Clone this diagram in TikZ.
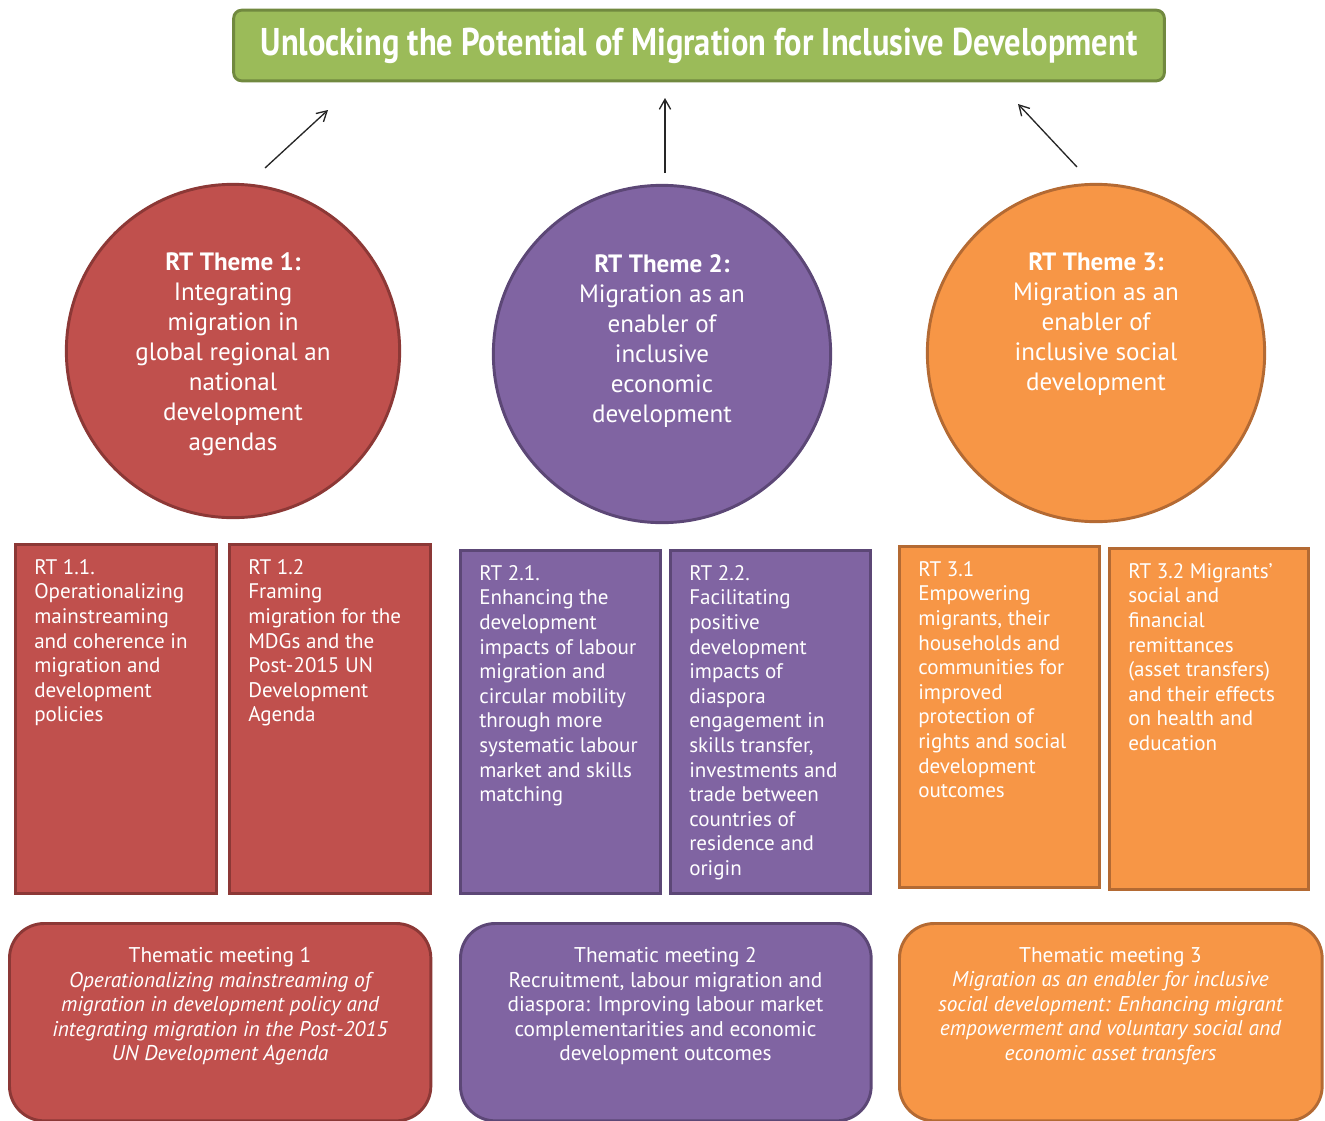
\documentclass[tikz,border=0pt]{standalone}
\usepackage{fontspec}
\setmainfont{PT Sans}
\newfontfamily\titlefont[FakeStretch=0.84]{PT Sans}
\usetikzlibrary{arrows.meta}

\definecolor{redfill}{HTML}{C0504D}
\definecolor{redline}{HTML}{8C3836}
\definecolor{purplefill}{HTML}{8064A2}
\definecolor{purpleline}{HTML}{5C4776}
\definecolor{orangefill}{HTML}{F79646}
\definecolor{orangeline}{HTML}{B46A33}
\definecolor{greenfill}{HTML}{9BBB59}
\definecolor{greenline}{HTML}{71893F}

\tikzstyle{every node}=[text=white,inner sep=0pt]
\tikzstyle{theme}=[draw,circle,line width=2.2pt]
\tikzstyle{themetext}=[anchor=north,align=center,font=\fontsize{18.8}{22.5}\selectfont]
\tikzstyle{rtbox}=[draw,rectangle,line width=2.2pt,outer sep=0pt,anchor=north west]
\tikzstyle{rttext}=[anchor=north west,align=left,font=\fontsize{15.8}{18.45}\selectfont]
\tikzstyle{meeting}=[draw,rectangle,rounded corners=26pt,line width=2.2pt,outer sep=0pt,anchor=north west]
\tikzstyle{meettext}=[anchor=north,align=center,font=\fontsize{16}{18.4}\selectfont]

\begin{document}
\begin{tikzpicture}[x=0.75pt,y=-0.75pt,>={Straight Barb[length=7.5pt,width=8.5pt]}]
	\useasboundingbox (0,0) rectangle (1325,1121);

	% goal
	\node(goal)[draw=greenline,fill=greenfill,line width=2.2pt,rounded corners=6pt,
		minimum width=698pt,minimum height=53pt]
		at (699,45.5) {\titlefont\fontsize{29}{32}\selectfont\bfseries Unlocking the Potential of Migration for Inclusive Development};

	% themes
	\node(t1)[theme,draw=redline,fill=redfill,minimum size=250pt] at (233,351) {};
	\node(t2)[theme,draw=purpleline,fill=purplefill,minimum size=253pt] at (662,354) {};
	\node(t3)[theme,draw=orangeline,fill=orangefill,minimum size=253pt] at (1096,353) {};

	\node(t1text)[themetext] at (233,252) {\textbf{RT Theme 1:}\\Integrating\\migration in\\global regional an\\national\\development\\agendas};
	\node(t2text)[themetext] at (662,254) {\textbf{RT Theme 2:}\\Migration as an\\enabler of\\inclusive\\economic\\development};
	\node(t3text)[themetext] at (1096,252) {\textbf{RT Theme 3:}\\Migration as an\\enabler of\\inclusive social\\development};

	% arrows up to the goal
	\coordinate (a1s) at (265,168);
	\coordinate (a1e) at (328,110);
	\coordinate (a2s) at (665,173);
	\coordinate (a2e) at (665,98);
	\coordinate (a3s) at (1077,167);
	\coordinate (a3e) at (1018,104);
	\path[->,every edge/.append style={line width=1pt,draw=black!85}]
		(a1s) edge (a1e)
		(a2s) edge (a2e)
		(a3s) edge (a3e);

	% round tables
	\node(rt11)[rtbox,draw=redline,fill=redfill,minimum width=151pt,minimum height=262pt] at (15.5,544.5) {};
	\node(rt12)[rtbox,draw=redline,fill=redfill,minimum width=151pt,minimum height=262pt] at (229.5,544.5) {};
	\node(rt21)[rtbox,draw=purpleline,fill=purplefill,minimum width=150pt,minimum height=257pt] at (460.5,550.5) {};
	\node(rt22)[rtbox,draw=purpleline,fill=purplefill,minimum width=150pt,minimum height=257pt] at (670.5,550.5) {};
	\node(rt31)[rtbox,draw=orangeline,fill=orangefill,minimum width=150pt,minimum height=256pt] at (899.5,546.5) {};
	\node(rt32)[rtbox,draw=orangeline,fill=orangefill,minimum width=149pt,minimum height=256pt] at (1109.5,548.5) {};

	\node(rt11text)[rttext] at (34,559) {RT 1.1.\\Operationalizing\\mainstreaming\\and coherence in\\migration and\\development\\policies};
	\node(rt12text)[rttext] at (248,559) {RT 1.2\\Framing\\migration for the\\MDGs and the\\Post-2015 UN\\Development\\Agenda};
	\node(rt21text)[rttext] at (479,565) {RT 2.1.\\Enhancing the\\development\\impacts of labour\\migration and\\circular mobility\\through more\\systematic labour\\market and skills\\matching};
	\node(rt22text)[rttext] at (689,565) {RT 2.2.\\Facilitating\\positive\\development\\impacts of\\diaspora\\engagement in\\skills transfer,\\investments and\\trade between\\countries of\\residence and\\origin};
	\node(rt31text)[rttext] at (918,561) {RT 3.1\\Empowering\\migrants, their\\households and\\communities for\\improved\\protection of\\rights and social\\development\\outcomes};
	\node(rt32text)[rttext] at (1128,563) {RT 3.2 Migrants'\\social and\\financial\\remittances\\(asset transfers)\\and their effects\\on health and\\education};

	% thematic meetings
	\node(m1)[meeting,draw=redline,fill=redfill,minimum width=316pt,minimum height=148pt] at (9.5,923.5) {};
	\node(m2)[meeting,draw=purpleline,fill=purplefill,minimum width=308pt,minimum height=148pt] at (460.5,923.5) {};
	\node(m3)[meeting,draw=orangeline,fill=orangefill,minimum width=317pt,minimum height=148pt] at (899.5,923.5) {};

	\node(m1text)[meettext] at (220,947) {Thematic meeting 1\\\itshape Operationalizing mainstreaming of\\\itshape migration in development policy and\\\itshape integrating migration in the Post-2015\\\itshape UN Development Agenda};
	\node(m2text)[meettext] at (665.5,947) {Thematic meeting 2\\Recruitment, labour migration and\\diaspora: Improving labour market\\complementarities and economic\\development outcomes};
	\node(m3text)[meettext] at (1110.5,947) {Thematic meeting 3\\\itshape Migration as an enabler for inclusive\\\itshape social development: Enhancing migrant\\\itshape empowerment and voluntary social and\\\itshape economic asset transfers};
\end{tikzpicture}
\end{document}
